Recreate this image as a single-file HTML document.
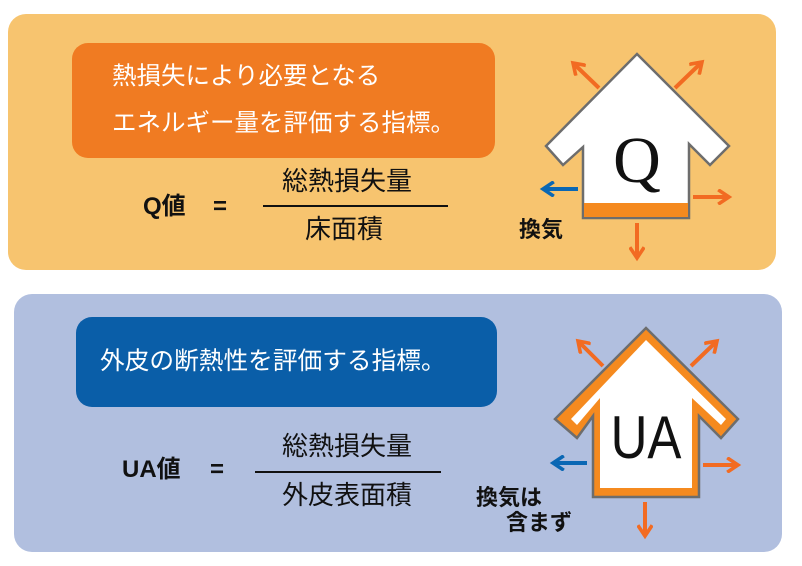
<!DOCTYPE html>
<html><head><meta charset="utf-8"><style>
body{margin:0;width:802px;height:566px;background:#fff;position:relative;overflow:hidden;font-family:"Liberation Sans","Noto Sans CJK JP",sans-serif}
.a{position:absolute}
.t{position:absolute;white-space:nowrap;line-height:1}
</style></head><body>
<div class="a" style="left:8px;top:14px;width:768px;height:256px;background:#f7c46f;border-radius:18px"></div>
<div class="a" style="left:14px;top:294px;width:768px;height:258px;background:#b1bfdf;border-radius:18px"></div>
<div class="a" style="left:72px;top:43px;width:423px;height:115px;background:#f07b22;border-radius:16px"></div>
<div class="t" style="left:112px;top:65px;font-size:24.5px;color:#fff">熱損失により必要となる</div>
<div class="t" style="left:112px;top:112px;font-size:24.5px;color:#fff">エネルギー量を評価する指標。</div>
<div class="t" style="left:143px;top:195px;font-size:24px;font-weight:bold;color:#111">Q値</div>
<div class="t" style="left:213px;top:195px;font-size:24px;font-weight:bold;color:#111">=</div>
<div class="a" style="left:263px;top:205px;width:185px;height:2px;background:#111"></div>
<div class="t" style="left:282px;top:168px;font-size:26px;color:#111">総熱損失量</div>
<div class="t" style="left:305px;top:216px;font-size:26px;color:#111">床面積</div>
<div class="a" style="left:76px;top:317px;width:421px;height:90px;background:#0a5ea8;border-radius:16px"></div>
<div class="t" style="left:100px;top:350px;font-size:24.7px;color:#fff">外皮の断熱性を評価する指標。</div>
<div class="t" style="left:122px;top:458px;font-size:24px;font-weight:bold;color:#111">UA値</div>
<div class="t" style="left:210px;top:458px;font-size:24px;font-weight:bold;color:#111">=</div>
<div class="a" style="left:255px;top:471px;width:186px;height:2px;background:#111"></div>
<div class="t" style="left:282px;top:433px;font-size:26px;color:#111">総熱損失量</div>
<div class="t" style="left:282px;top:482px;font-size:26px;color:#111">外皮表面積</div>
<svg class="a" style="left:0;top:0" width="802" height="566">
<defs>
<marker id="o" markerWidth="4" markerHeight="4" refX="3" refY="2" orient="auto" markerUnits="strokeWidth"><path d="M0.3,0.2 L3,2 L0.3,3.8" fill="none" stroke="#f26b22" stroke-width="0.9"/></marker>
<marker id="b" markerWidth="4" markerHeight="4" refX="3" refY="2" orient="auto" markerUnits="strokeWidth"><path d="M0.3,0.2 L3,2 L0.3,3.8" fill="none" stroke="#0a67b4" stroke-width="0.9"/></marker>
</defs>
<g stroke-width="4" fill="none">
<line x1="599" y1="88" x2="573" y2="63" stroke="#f26b22" marker-end="url(#o)"/>
<line x1="675" y1="88" x2="702" y2="62" stroke="#f26b22" marker-end="url(#o)"/>
<line x1="578" y1="189" x2="543" y2="189" stroke="#0a67b4" marker-end="url(#b)"/>
<line x1="693" y1="197" x2="729" y2="197" stroke="#f26b22" marker-end="url(#o)"/>
<line x1="637" y1="223" x2="637" y2="258" stroke="#f26b22" marker-end="url(#o)"/>
<line x1="603" y1="366" x2="578" y2="341" stroke="#f26b22" marker-end="url(#o)"/>
<line x1="691" y1="366" x2="717" y2="341" stroke="#f26b22" marker-end="url(#o)"/>
<line x1="587" y1="463" x2="553" y2="463" stroke="#0a67b4" marker-end="url(#b)"/>
<line x1="703" y1="465" x2="738" y2="465" stroke="#f26b22" marker-end="url(#o)"/>
<line x1="645" y1="502" x2="645" y2="536" stroke="#f26b22" marker-end="url(#o)"/>
</g>
<polygon points="637,54 729,146 710,165 689,144 689,218 583,218 583,147 563,165 546,146" fill="#fff" stroke="#6d6d6d" stroke-width="2.5"/>
<rect x="584" y="203" width="104" height="14" fill="#f58a1f"/>
<text x="637" y="182" font-family="Liberation Serif,serif" font-size="66" text-anchor="middle" fill="#111">Q</text>
<polygon points="646,328 738,419 721,438 699,416 699,497 593,497 593,416 577,438 555,419" fill="#f58a1f" stroke="#6d6d6d" stroke-width="2.5"/>
<polygon points="646,340 726,419 721,425 692,398 692,488 600,488 600,398 577,425 571,419" fill="#fff"/>
<text x="646" y="458" font-family="Liberation Sans,sans-serif" font-size="60" text-anchor="middle" fill="#111" transform="translate(646,0) scale(0.85,1) translate(-646,0)">UA</text>
</svg>
<div class="t" style="left:519px;top:219px;font-size:22px;font-weight:bold;color:#111">換気</div>
<div class="t" style="left:476px;top:487px;font-size:22px;font-weight:bold;color:#111">換気は</div>
<div class="t" style="left:506px;top:512px;font-size:22px;font-weight:bold;color:#111">含まず</div>
</body></html>
